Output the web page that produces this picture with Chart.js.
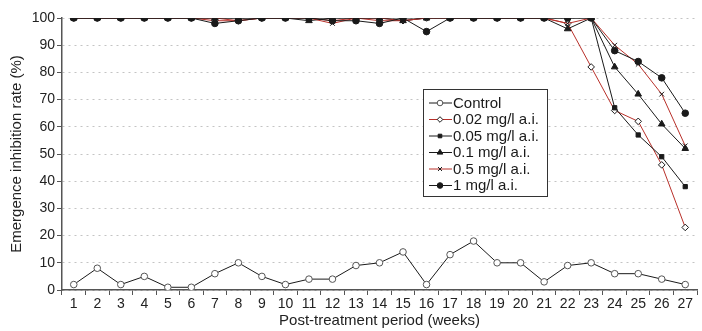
<!DOCTYPE html>
<html>
<head>
<meta charset="utf-8">
<script src="https://cdn.jsdelivr.net/npm/chart.js@4.4.1/dist/chart.umd.min.js"></script>
<style>
html,body{margin:0;padding:0;background:#fff;}
#wrap{width:702px;height:331px;position:relative;}
</style>
</head>
<body>
<div id="wrap"><canvas id="c" width="702" height="331"></canvas></div>
<script>
const weeks = ['1','2','3','4','5','6','7','8','9','10','11','12','13','14','15','16','17','18','19','20','21','22','23','24','25','26','27'];
const yTicks = [0,10,20,30,40,50,60,70,80,90,100];
const seriesNames = ['Control','0.02 mg/l a.i.','0.05 mg/l a.i.','0.1 mg/l a.i.','0.5 mg/l a.i.','1 mg/l a.i.'];
const control = [2,8,2,5,1,1,6,10,5,2,4,4,9,10,14,2,13,18,10,10,3,9,10,6,6,4,2];
const dose002 = [100,100,100,100,100,100,99,99,100,100,100,99,100,99,99,100,100,100,100,100,100,98,82,66,62,46,23];
const dose005 = [100,100,100,100,100,100,100,100,100,100,100,100,100,100,100,100,100,100,100,100,100,100,100,67,57,49,38];
const dose01  = [100,100,100,100,100,100,100,100,100,100,99,100,100,100,99,100,100,100,100,100,100,96,100,82,72,61,52];
const dose05  = [100,100,100,100,100,100,100,99,100,100,100,98,100,100,99,100,100,100,100,100,100,98,100,90,83,72,53];
const dose1   = [100,100,100,100,100,100,98,99,100,100,100,99,99,98,100,95,100,100,100,100,100,100,100,88,84,78,65];

const BLACK = '#1a1a1a';
const RED = '#b8302a';
const styles = [
  {data: control, line: BLACK, point: 'circle', fill: '#ffffff', border: '#555555', r: 3.3},
  {data: dose002, line: RED, point: 'rectRot', fill: '#ffffff', border: BLACK, r: 3.3},
  {data: dose005, line: BLACK, point: 'rect', fill: BLACK, border: BLACK, r: 3},
  {data: dose01, line: BLACK, point: 'triangle', fill: BLACK, border: BLACK, r: 3.8},
  {data: dose05, line: RED, point: 'crossRot', fill: BLACK, border: BLACK, r: 3.3},
  {data: dose1, line: BLACK, point: 'circle', fill: BLACK, border: BLACK, r: 3.3}
];
const drawOrder = [6,5,1,4,3,2];

const datasets = styles.map((s,i)=>({
  label: seriesNames[i],
  data: s.data,
  borderColor: s.line,
  borderWidth: 1,
  pointStyle: s.point,
  pointRadius: s.r,
  pointBackgroundColor: s.fill,
  pointBorderColor: s.border,
  pointBorderWidth: 1,
  tension: 0,
  order: drawOrder[i]
}));

const FONT = 'Liberation Sans, Arial, sans-serif';

const legendPlugin = {
  id: 'customLegend',
  afterDraw(chart){
    const ctx = chart.ctx;
    const x0 = 423, y0 = 89, w = 124, h = 107;
    ctx.save();
    ctx.fillStyle = '#fff';
    ctx.fillRect(x0, y0, w, h);
    ctx.strokeStyle = '#333';
    ctx.lineWidth = 1;
    ctx.strokeRect(x0+0.5, y0+0.5, w, h);
    ctx.font = '15px ' + FONT;
    ctx.textBaseline = 'middle';
    ctx.textAlign = 'left';
    styles.forEach((s,i)=>{
      const y = y0 + 14 + i*16.5;
      ctx.strokeStyle = s.line;
      ctx.lineWidth = 1;
      ctx.beginPath();
      ctx.moveTo(x0+6, y);
      ctx.lineTo(x0+29, y);
      ctx.stroke();
      ctx.fillStyle = s.fill;
      ctx.strokeStyle = s.border;
      Chart.helpers.drawPoint(ctx, {pointStyle: s.point, radius: s.r*0.85, borderWidth: 1, rotation: 0}, x0+17, y);
      ctx.fillStyle = '#1a1a1a';
      ctx.fillText(seriesNames[i], x0+30, y+0.5);
    });
    ctx.restore();
  }
};

new Chart(document.getElementById('c'), {
  type: 'line',
  data: {labels: weeks, datasets},
  options: {
    responsive: false,
    animation: false,
    events: [],
    layout: {padding: {top: 18, right: 4, left: 0, bottom: 0}},
    plugins: {legend: {display: false}, tooltip: {enabled: false}},
    scales: {
      x: {
        type: 'category',
        offset: true,
        afterFit(scale){ scale.height = 41; },
        grid: {offset: true, drawOnChartArea: false, drawTicks: true, tickLength: 5, tickColor: '#555', color: '#555'},
        border: {color: '#555', width: 1.5},
        ticks: {color: '#222', font: {family: FONT, size: 14}, maxRotation: 0, autoSkip: false, padding: 1},
        title: {display: true, text: 'Post-treatment period (weeks)', color: '#222', font: {family: FONT, size: 15}, padding: {top: 0, bottom: 1}}
      },
      y: {
        min: 0, max: 100,
        afterBuildTicks(scale){ scale.ticks = yTicks.map(v=>({value:v})); },
        afterFit(scale){ scale.width = 62; },
        grid: {color: '#c4c4c4', tickColor: '#555', tickLength: 5, drawTicks: true, tickBorderDash: []},
        border: {color: '#555', width: 1.5, dash: [2,4]},
        ticks: {color: '#222', font: {family: FONT, size: 14}, padding: 2},
        title: {display: true, text: 'Emergence inhibition rate (%)', color: '#222', font: {family: FONT, size: 15}, padding: {top: 8, bottom: 0}}
      }
    }
  },
  plugins: [legendPlugin]
});
</script>
</body>
</html>
